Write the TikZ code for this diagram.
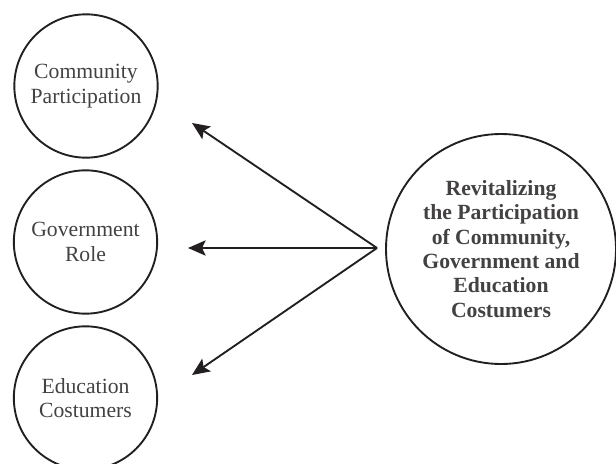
\documentclass[tikz,border=0pt]{standalone}
\usepackage{fontspec}
\setmainfont{Liberation Serif}
\usepackage{tikz}
\usepackage{xcolor}
\usetikzlibrary{positioning, arrows.meta}

\definecolor{ink}{RGB}{35,31,32}
\tikzset{
  bubble/.style={circle, draw=ink, line width=1.6pt, minimum size=4.3cm, inner sep=0pt,
    align=center, text=ink!85, font=\fontsize{18.5}{20.8}\selectfont},
  bigbubble/.style={bubble, minimum size=6.9cm, font=\fontsize{18.5}{20.8}\selectfont\bfseries},
  link/.style={draw=ink, line width=1.6pt, -{Stealth[length=15pt,width=13pt,inset=3pt]}}
}

\begin{document}
\begin{tikzpicture}
        \useasboundingbox (0,0) rectangle (18.48,-13.92);
        \node[bubble] (community) at (2.58,-2.58) {Community\\Participation};
        \node[bubble] (government) at (2.565,-7.26) {Government\\Role};
        \node[bubble] (education) at (2.565,-11.94) {Education\\Costumers};
        \node[bigbubble] (revital) at (15.03,-7.47) {Revitalizing\\the Participation\\of Community,\\Government and\\Education\\Costumers};
        \coordinate (hub) at (11.31,-7.44);
        \coordinate (tipa) at (5.76,-3.69);
        \coordinate (tipb) at (5.64,-7.44);
        \coordinate (tipc) at (5.76,-11.25);
        \draw[link] (hub) -- (tipa);
        \draw[link] (hub) -- (tipb);
        \draw[link] (hub) -- (tipc);
    \end{tikzpicture}
\end{document}
